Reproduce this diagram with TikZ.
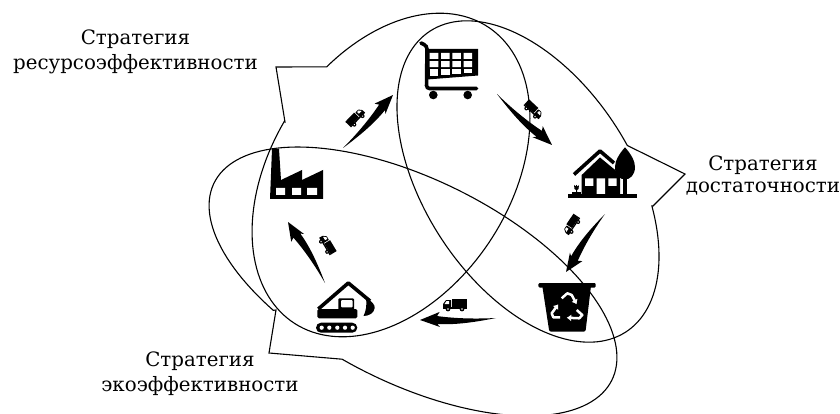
\documentclass[tikz,border=0pt]{standalone}
\usepackage{fontspec}
\setmainfont{DejaVu Serif}
\usetikzlibrary{arrows.meta,calc,positioning}
\tikzstyle{strategy} = [line width=1.1pt, draw=black]
\tikzstyle{label} = [align=center, inner sep=0pt, font=\fontsize{19.8}{25}\selectfont]
\tikzstyle{thickicon} = [line width=3.6pt, line join=round, line cap=round]
\tikzstyle{recycle} = [white, line width=2.5pt, line join=round, -{Latex[length=4.5pt,width=7pt]}]
\tikzset{
	swoosh/.pic={
		\fill (0,0) .. controls (20,0.5) and (40,-0.5) .. (58,-3.5) -- (55.5,-7.5) -- (75,0) -- (55.5,7.5) -- (58,4.5) .. controls (40,6) and (20,3.5) .. (0,0) -- cycle;
	},
	truck/.pic={
		\fill (-3,-6) rectangle (12,2);
		\fill[rounded corners=0.5pt] (-12,3) -- (-12,-1) -- (-9,-5) -- (-4,-5) -- (-4,3) -- cycle;
		\fill[white] (-10.5,-1) -- (-8.5,-4) -- (-6,-4) -- (-6,-1) -- cycle;
		\fill (-12,2) rectangle (12,3.5);
		\fill (-7,4) circle (2.4) (7,4) circle (2.4);
		\fill[white] (-7,4) circle (0.9) (7,4) circle (0.9);
	}
}
\newcommand{\strategyarc}[7]{plot[domain=#6:#7,samples=150,variable=\t] ({#1+#3*cos(\t)*cos(#5)-#4*sin(\t)*sin(#5)},{#2+#3*cos(\t)*sin(#5)+#4*sin(\t)*cos(#5)})}
\newcommand{\swooshto}[3][]{\path let \p1=($(#3)-(#2)$), \n1={atan2(\y1,\x1)}, \n2={veclen(\x1,\y1)} in (#2) pic[rotate=\n1,xscale={\n2/75},#1] {swoosh};}

\begin{document}
\begin{tikzpicture}[x=1pt,y=-1pt]
	\useasboundingbox (0,0) rectangle (840,414);

	\coordinate (tailA) at (276,67);
	\coordinate (tailB) at (285,122);
	\coordinate (tailC) at (685,174);
	\coordinate (tailD) at (653,206);
	\coordinate (tailE) at (269,353);
	\coordinate (tailF) at (276,310);

	% strategy outlines
	\draw[strategy] \strategyarc{391}{175}{177}{119}{-56.8}{-71.8}{265.5} -- (tailB) -- (tailA) -- cycle;
	\draw[strategy] \strategyarc{528}{181.5}{179.5}{103.8}{56.9}{-60.6}{277.7} -- (tailC) -- (tailD) -- cycle;
	\draw[strategy] \strategyarc{413}{281.5}{222}{102}{26.4}{120.4}{457.5} -- (tailE) -- (tailF) -- cycle;

	\node[label] (resource) at (135.5,52) {Стратегия\\ресурсоэффективности};
	\node[label] (sufficiency) at (763,176) {Стратегия\\[-3pt]достаточности};
	\node[label] (eco) at (200,374) {Стратегия\\экоэффективности};

	% factory
	\fill (270,199) -- (272,149) -- (279,149) -- (281,180) -- (302,170) -- (302,180) -- (323,170) -- (323,199) -- cycle;
	\fill[white] (276,188) rectangle (285,195) (292,188) rectangle (301,195) (307,188) rectangle (317,195);

	% cart
	\fill (427,49) -- (478,49) -- (478,75.5) -- (427,79.5) -- cycle;
	\foreach \x in {429.7,441,452.3,463.6} {
		\fill[white] (\x,52.8) rectangle ++(8.6,6) (\x,61.2) rectangle ++(8.6,6);
	}
	\foreach \x/\b in {429.7/75.6,441/75,452.3/74.3,463.6/73.5} {
		\fill[white] (\x,69.5) rectangle (\x+8.6,\b);
	}
	\draw[line width=3.6pt, line cap=round, rounded corners=3pt] (421,43) -- (427,46) -- (426.5,88.5) -- (476.5,88.5);
	\fill (433.3,95) circle (4.3) (467.7,95) circle (4.3);

	% house
	\fill (568.3,194) rectangle (636.7,197.7);
	\draw[thickicon, line cap=butt] (574,174.5) -- (600,151) -- (614,163);
	\fill (600,157.5) -- (620,174) -- (620,194) -- (581.7,194) -- (581.7,175) -- cycle;
	\fill[white] (585,178.3) rectangle (593.3,186) (608.3,178.3) rectangle (616.7,186) (596.7,178.3) rectangle (605,194);
	\fill (625,147.3) .. controls (631,154) and (635,161) .. (635,167) .. controls (635,175) and (630,179.5) .. (625,179.5) .. controls (620,179.5) and (615,175) .. (615,167) .. controls (615,161) and (619,154) .. (625,147.3) -- cycle;
	\fill (623.3,178) rectangle (627.3,194);
	\fill (574,185) -- (575.5,186.5) -- (576.5,184.8) -- (577.5,186.5) -- (579,185) -- (578.5,189) -- (577,190) -- (577,194) -- (576,194) -- (576,190) -- (574.5,189) -- cycle;
	\fill (572,192) -- (581,192) -- (581,194) -- (572,194) -- cycle;

	% bin
	\fill[rounded corners=1.2pt] (538.3,283) rectangle (595.7,287.5);
	\fill[rounded corners=1.5pt] (542.3,286) -- (591,286) -- (585.5,331.7) -- (549.3,331.7) -- cycle;
	\draw[recycle] (561.7,298.3) -- (567.3,293.3) -- (571.7,295) -- (576.7,304.3);
	\draw[recycle] (560,317.3) -- (553.3,317.3) -- (551.7,313.3) -- (558.3,304.3);
	\draw[recycle] (576.7,310) -- (582.3,315) -- (579.3,318.3) -- (566.7,317.7);

	% excavator
	\fill[rounded corners=5pt] (316,322.7) rectangle (357.3,332.7);
	\fill[white] (321.7,327.7) circle (2.1) (329.3,327.7) circle (2.1) (337.3,327.7) circle (2.1) (345,327.7) circle (2.1) (352.7,327.7) circle (2.1);
	\fill[rounded corners=1.5pt] (317.3,309) rectangle (357.3,318.3);
	\fill[rounded corners=1pt] (338.3,298.3) rectangle (354,310);
	\fill[white, rounded corners=1pt] (341,300) rectangle (352.7,307.3);
	\draw[thickicon, line cap=butt] (318.3,309) -- (348.3,283) -- (370,301);
	\fill (366,298) .. controls (372,301) and (375,305) .. (374.7,308) .. controls (374,313) and (369,316) .. (363.5,316) .. controls (366,311) and (367,305) .. (366,298) -- cycle;

	% arrows between the stages
	\coordinate (factoryout) at (343,148);
	\coordinate (cartin) at (393,95);
	\coordinate (cartout) at (497,94);
	\coordinate (housein) at (552,145);
	\coordinate (houseout) at (605,214);
	\coordinate (binin) at (566,272);
	\coordinate (binout) at (496,318);
	\coordinate (digin) at (420,320);
	\coordinate (digout) at (325,283);
	\coordinate (factoryin) at (288,222);

	\swooshto{factoryout}{cartin}
	\swooshto{cartout}{housein}
	\swooshto{houseout}{binin}
	\swooshto[yscale=-1]{binout}{digin}
	\swooshto{digout}{factoryin}

	% trucks
	\path (356,118) pic[rotate=46,xscale=-0.85,yscale=0.85] {truck};
	\path (533,110) pic[rotate=-43,xscale=-0.85,yscale=0.85] {truck};
	\path (572,225) pic[rotate=56,scale=0.85] {truck};
	\path (455,305) pic {truck};
	\path (327,245) pic[rotate=-59,scale=0.85] {truck};
\end{tikzpicture}
\end{document}
